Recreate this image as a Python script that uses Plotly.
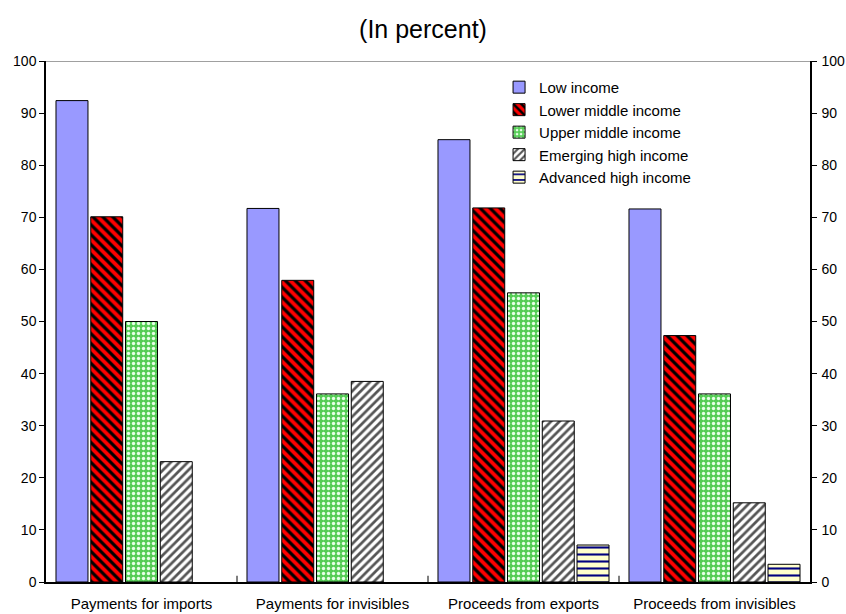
import plotly.graph_objects as go

categories = ["Payments for imports", "Payments for invisibles",
              "Proceeds from exports", "Proceeds from invisibles"]
low_income = [92.4, 71.7, 84.9, 71.6]
lower_middle = [70.1, 57.9, 71.8, 47.3]
upper_middle = [50.0, 36.1, 55.5, 36.1]
emerging_high = [23.1, 38.5, 30.9, 15.2]
advanced_high = [None, None, 7.1, 3.4]
y_ticks = [0, 10, 20, 30, 40, 50, 60, 70, 80, 90, 100]

series = [
    ("Low income", low_income, dict(color="#9999FF")),
    ("Lower middle income", lower_middle,
     dict(color="#FF0000", pattern=dict(shape="\\", bgcolor="#FF0000", fgcolor="#000000",
                                        size=7, solidity=0.45, fillmode="replace"))),
    ("Upper middle income", upper_middle,
     dict(color="#55CC55", pattern=dict(shape=".", bgcolor="#55CC55", fgcolor="#E6FFE6",
                                        size=5, solidity=0.35, fillmode="replace"))),
    ("Emerging high income", emerging_high,
     dict(color="#FFFFFF", pattern=dict(shape="/", bgcolor="#FFFFFF", fgcolor="#555555",
                                        size=6, solidity=0.45, fillmode="replace"))),
    ("Advanced high income", advanced_high,
     dict(color="#FFFFCC", pattern=dict(shape="-", bgcolor="#FFFFCC", fgcolor="#000080",
                                        size=7, solidity=0.3, fillmode="replace"))),
]

fig = go.Figure()
for name, vals, marker in series:
    marker = dict(marker)
    marker["line"] = dict(color="#000000", width=1)
    fig.add_trace(go.Bar(name=name, x=categories, y=vals, marker=marker))

# invisible trace to activate right axis
fig.add_trace(go.Scatter(x=categories, y=low_income, yaxis="y2", mode="markers",
                         marker=dict(opacity=0), showlegend=False, hoverinfo="skip"))

fig.update_layout(
    width=846, height=614,
    margin=dict(l=46, r=36, t=61, b=32, autoexpand=False),
    paper_bgcolor="white", plot_bgcolor="white",
    barmode="group", bargap=0.09, bargroupgap=0.08,
    font=dict(family="Liberation Sans, Arial", size=15, color="#000000"),
    title=dict(text="(In percent)", x=0.5, xanchor="center", y=0.952, yanchor="middle",
               font=dict(size=25, family="Liberation Sans, Arial")),
    xaxis=dict(showline=True, linecolor="#000000", linewidth=1.5, ticks="",
               tickfont=dict(size=15), showgrid=False, zeroline=False,
               ticklabelstandoff=7, automargin=False),
    yaxis=dict(range=[0, 100], tickvals=y_ticks, showline=True, linecolor="#000000",
               linewidth=1.5, ticks="outside", ticklen=5, tickcolor="#000000",
               showgrid=False, zeroline=False, tickfont=dict(size=14), automargin=False),
    yaxis2=dict(range=[0, 100], tickvals=y_ticks, overlaying="y", side="right",
                showline=True, linecolor="#000000", linewidth=1.5, ticks="outside",
                ticklen=5, tickcolor="#000000", showgrid=False, zeroline=False,
                tickfont=dict(size=14), ticklabelstandoff=2, automargin=False),
    legend=dict(x=0.593, y=0.981, xanchor="left", yanchor="top",
                font=dict(size=15), bgcolor="rgba(0,0,0,0)",
                itemwidth=30, tracegroupgap=0),
    showlegend=True,
)

# top border at 100 (gray) and inside separator ticks between categories
fig.add_shape(type="line", xref="paper", yref="y", x0=0, x1=1, y0=100, y1=100,
              line=dict(color="#808080", width=1.5))
for i in range(1, len(categories)):
    fig.add_shape(type="line", xref="x", yref="y", x0=i - 0.5, x1=i - 0.5, y0=0, y1=1.2,
                  line=dict(color="#000000", width=1))

fig.write_html("out.html")
